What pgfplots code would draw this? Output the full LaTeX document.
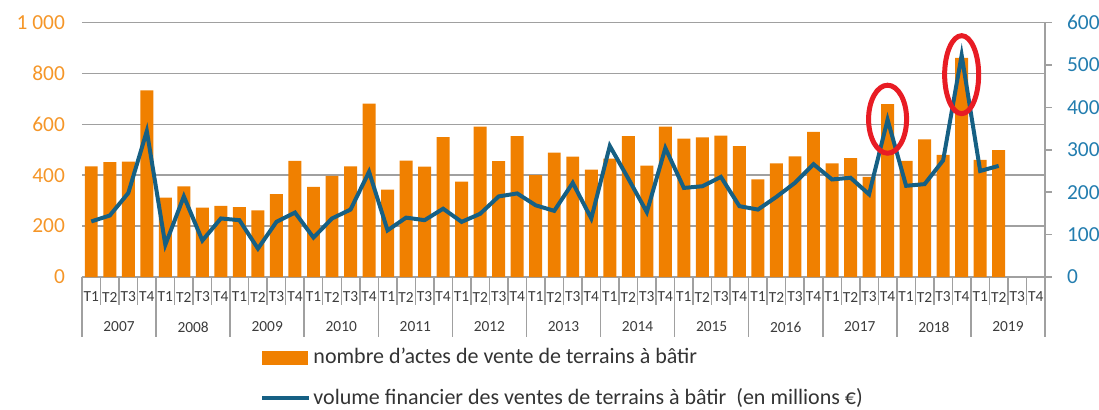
\documentclass[border=0pt]{standalone}
\usepackage{fontspec}
\setmainfont{Carlito}
\usepackage{pgfplots}
\pgfplotsset{compat=1.18}
\definecolor{barorange}{RGB}{240,128,0}
\definecolor{lineblue}{RGB}{22,96,132}
\definecolor{lefttick}{RGB}{245,150,40}
\definecolor{righttick}{RGB}{35,125,175}
\definecolor{gridgray}{RGB}{160,160,160}
\definecolor{labgray}{RGB}{60,60,60}
\definecolor{ellred}{RGB}{232,28,36}
\begin{document}
\begin{tikzpicture}
\useasboundingbox (0,0) rectangle (549.5pt,204.5pt);
% bars, left axis
\begin{axis}[
  at={(41pt,66pt)}, anchor=south west,
  scale only axis, width=481.5pt, height=127.25pt,
  xmin=-0.5, xmax=51.5, ymin=0, ymax=1000,
  clip=false,
  axis x line*=bottom, axis y line*=left,
  x axis line style={draw=gridgray, line width=0.75pt, -},
  y axis line style={draw=none},
  ytick={0,200,400,600,800,1000},
  yticklabels={0,200,400,600,800,{1\ 000}},
  yticklabel style={font=\fontsize{10.7}{12}\selectfont, text=lefttick, xshift=-5pt},
  major tick length=0pt,
  ymajorgrids, grid style={draw=gridgray, line width=0.75pt},
  xtick={0,...,51},
  xticklabels={T1,T2,T3,T4,T1,T2,T3,T4,T1,T2,T3,T4,T1,T2,T3,T4,T1,T2,T3,T4,T1,T2,T3,T4,T1,T2,T3,T4,T1,T2,T3,T4,T1,T2,T3,T4,T1,T2,T3,T4,T1,T2,T3,T4,T1,T2,T3,T4,T1,T2,T3,T4},
  xticklabel style={font=\fontsize{7.7}{9}\selectfont, text=labgray, anchor=center, yshift=-10pt},
]
\addplot[ybar, bar width=0.7, fill=barorange, draw=none, bar shift=0pt] coordinates {
(0,435) (1,451) (2,453) (3,733)
(4,312) (5,356) (6,273) (7,279)
(8,275) (9,262) (10,326) (11,456)
(12,354) (13,397) (14,435) (15,681)
(16,343) (17,457) (18,434) (19,550)
(20,375) (21,591) (22,455) (23,554)
(24,400) (25,489) (26,473) (27,422)
(28,465) (29,554) (30,438) (31,591)
(32,544) (33,549) (34,556) (35,514)
(36,384) (37,446) (38,474) (39,570)
(40,446) (41,467) (42,393) (43,679)
(44,456) (45,541) (46,480) (47,861)
(48,460) (49,499)
};
\pgfplotsinvokeforeach{0,...,52}{
  \draw[gridgray, line width=0.75pt] (axis cs:{#1-0.5},0) -- ([yshift=-14pt]axis cs:{#1-0.5},0);
}
\pgfplotsinvokeforeach{0,4,...,52}{
  \draw[gridgray, line width=0.75pt] (axis cs:{#1-0.5},0) -- ([yshift=-30pt]axis cs:{#1-0.5},0);
}
\draw[gridgray, line width=0.75pt] (axis cs:51.5,0) -- ([xshift=3.5pt]axis cs:51.5,0);
\pgfplotsinvokeforeach{2007,...,2019}{
  \node[font=\fontsize{7.7}{9}\selectfont, text=labgray] at ([yshift=-25pt]axis cs:{(#1-2007)*4+1.5},0) {#1};
}
\end{axis}
% line, right axis
\begin{axis}[
  at={(41pt,66pt)}, anchor=south west,
  scale only axis, width=481.5pt, height=127.25pt,
  xmin=-0.5, xmax=51.5, ymin=0, ymax=600,
  clip=false,
  axis x line=none, axis y line*=right,
  y axis line style={draw=gridgray, line width=0.75pt, -},
  ytick={0,100,200,300,400,500,600},
  /pgf/number format/assume math mode=true,
  tick align=outside, major tick length=3.5pt,
  tick style={draw=gridgray, line width=0.75pt},
  yticklabel style={font=\fontsize{10.7}{12}\selectfont, text=righttick, xshift=4pt},
  legend style={at={(0.1787,-0.255)}, anchor=north west, draw=none, fill=none,
    font=\fontsize{11}{13}\selectfont, row sep=9pt, text=black!80,
    nodes={inner sep=1pt}},
  legend cell align=left,
]
\addlegendimage{legend image code/.code={\fill[barorange] (0pt,-3.25pt) rectangle (22.5pt,3.25pt);}}
\addlegendentry{nombre d'actes de vente de terrains à bâtir}
\addlegendimage{legend image code/.code={\draw[lineblue, line width=2pt] (0pt,0pt) -- (23.5pt,0pt);}}
\addlegendentry{volume financier des ventes de terrains à bâtir\ \ (en millions €)}
\addplot[lineblue, line width=2pt, mark=none, forget plot] coordinates {
(0,131) (1,145) (2,198) (3,344)
(4,76) (5,190) (6,86) (7,138)
(8,134) (9,67) (10,130) (11,152)
(12,93) (13,138) (14,159) (15,248)
(16,110) (17,140) (18,134) (19,161)
(20,130) (21,149) (22,190) (23,197)
(24,169) (25,156) (26,222) (27,138)
(28,309) (29,232) (30,153) (31,304)
(32,210) (33,214) (34,236) (35,167)
(36,159) (37,189) (38,222) (39,266)
(40,230) (41,234) (42,195) (43,371)
(44,215) (45,219) (46,275) (47,523)
(48,250) (49,262)
};
\draw[ellred, line width=2.5pt] (axis cs:43,372) ellipse [x radius=9.5pt, y radius=17pt];
\draw[ellred, line width=2.5pt] (axis cs:47,477) ellipse [x radius=8.5pt, y radius=19.5pt];
\end{axis}
\end{tikzpicture}
\end{document}
